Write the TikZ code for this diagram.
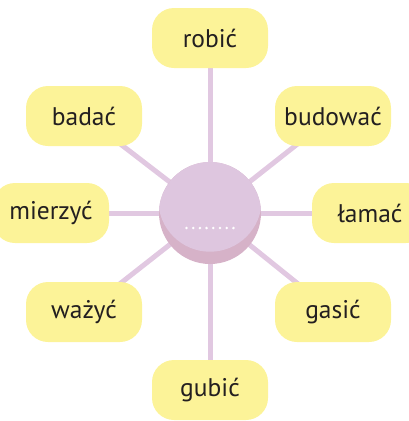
\documentclass[tikz,border=0pt]{standalone}
\usepackage{fontspec}
\setmainfont{PT Sans}
\usetikzlibrary{backgrounds}
\definecolor{cBox}{RGB}{252,243,152}
\definecolor{cSpoke}{RGB}{225,200,225}
\definecolor{cHubTop}{RGB}{222,198,223}
\definecolor{cHubSide}{RGB}{214,178,200}
\definecolor{cText}{RGB}{35,31,32}
\tikzset{
	word/.style ={rectangle, rounded corners=22pt, minimum width=116pt, minimum height=60pt, inner sep=0pt, fill=cBox, text=cText, font=\fontsize{25.5}{27}\selectfont},
	spoke/.style={line width=5pt, draw=cSpoke},
}

\begin{document}
\begin{tikzpicture}[x=1pt, y=-1pt]
	\useasboundingbox (0,0) rectangle (409,421);
	\clip (0,0) rectangle (409,421);
	\coordinate (hub) at (210,213);
	% words round the hub
	\node[word] (robic)   at (210,38)  {robić};
	\node[word] (badac)   at (84,116)  {badać};
	\node[word] (budowac) at (333,116) {budować};
	\node[word] (mierzyc) at (51,213)  {mierzyć};
	\node[word] (lamac)   at (370,213) {łamać};
	\node[word] (wazyc)   at (84,312)  {ważyć};
	\node[word] (gasic)   at (333,312) {gasić};
	\node[word] (gubic)   at (210,390) {gubić};
	\begin{scope}[on background layer]
		\foreach \n in {robic, badac, budowac, mierzyc, lamac, wazyc, gasic, gubic}
			\draw[spoke] (hub) -- (\n.center);
	\end{scope}
	% the coin in the middle
	\fill[cHubSide] (hub) circle[radius=51];
	\begin{scope}
		\clip (hub) circle[radius=51];
		\fill[cHubTop] ([yshift=13pt]hub) circle[radius=51.7];
	\end{scope}
	\foreach \i in {0,...,7}
		\fill[white] ([xshift=-23.5pt+\i*6.7pt, yshift=-15pt]hub) circle[radius=1.4];
\end{tikzpicture}
\end{document}
